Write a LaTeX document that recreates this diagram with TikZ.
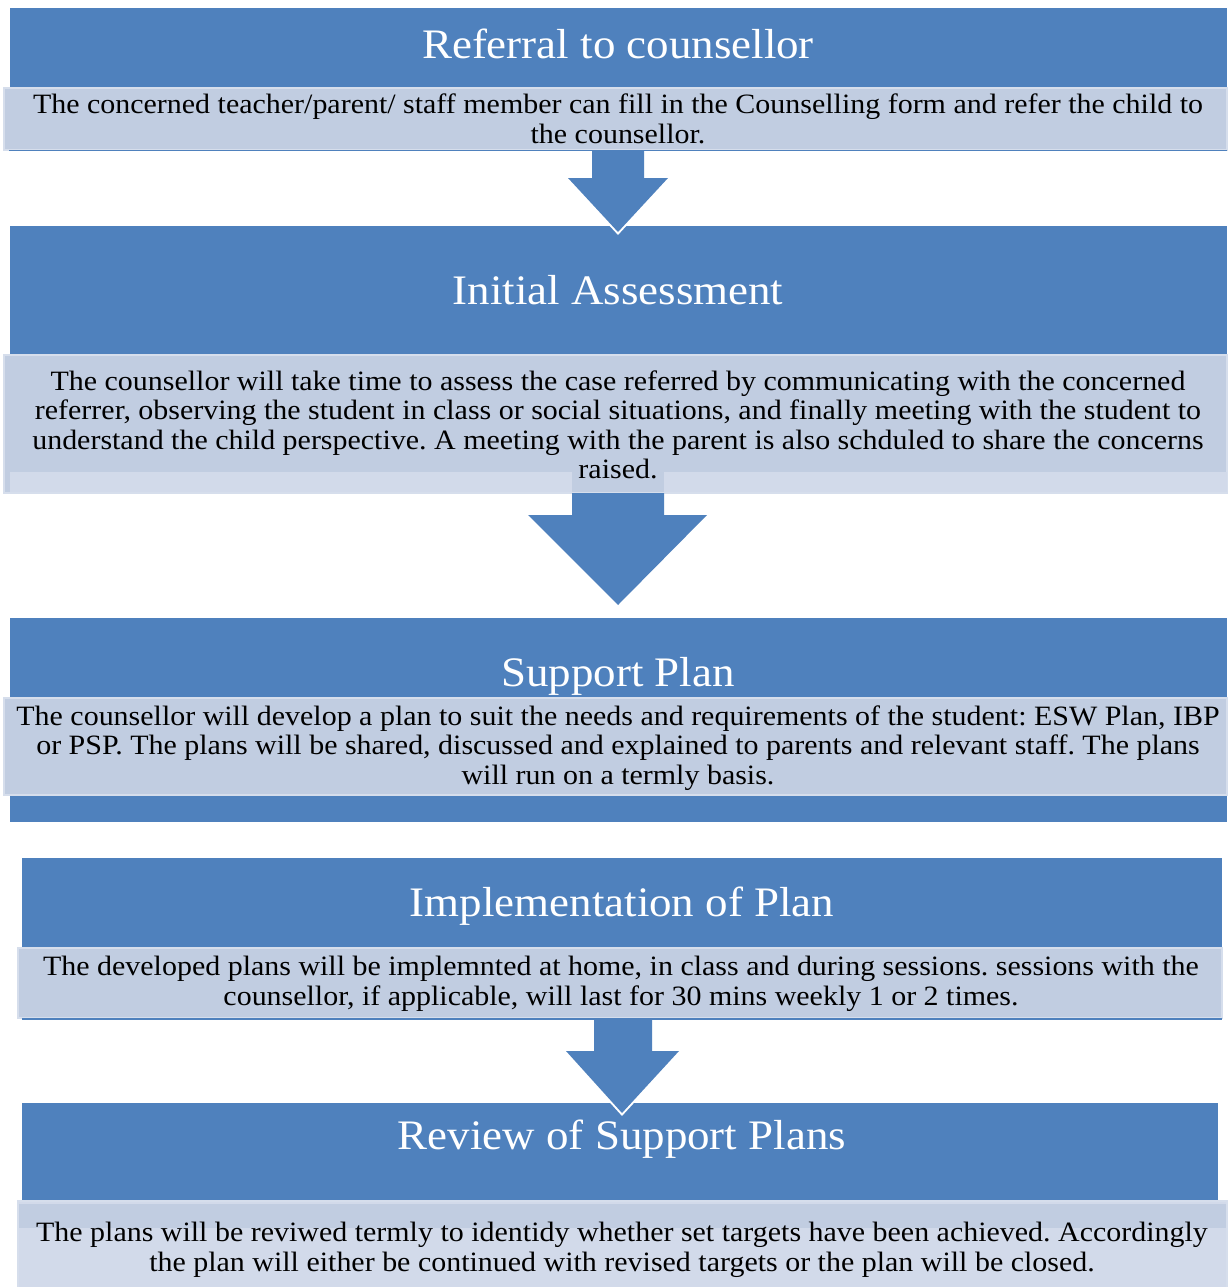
\documentclass[tikz,border=0pt]{standalone}
\usepackage{fontspec}
\setmainfont{Liberation Serif}
\newfontfamily\stretchserif[FakeStretch=1.07]{Liberation Serif}
\frenchspacing
\definecolor{hdr}{HTML}{4F81BD}
\definecolor{bar}{HTML}{C1CDE1}
\definecolor{barlt}{HTML}{D2DAEA}
\definecolor{baredge}{HTML}{D6DEEC}
\begin{document}
\begin{tikzpicture}[x=1pt,y=-1pt,
  title/.style={text=white, font=\stretchserif\fontsize{42}{46}\selectfont, inner sep=0pt, anchor=base},
  body/.style={text=black, font=\stretchserif\fontsize{28}{29.5}\selectfont, align=center, inner sep=0pt},
  hdrbox/.style={fill=hdr},
  barbox/.style={fill=bar, draw=baredge, line width=1.2pt},
  flowarrow/.style={fill=hdr},
  tipedge/.style={draw=white, line width=4pt, line join=miter}
]
\useasboundingbox[fill=white] (0,0) rectangle (1227,1287);

% ---------- Box 1 ----------
\path[hdrbox] (10,8) rectangle (1227,88);
\path[barbox] (4,88) rectangle (1227,150);
\draw[hdr, line width=1.2pt] (9,150.5) -- (1227,150.5);
\node[title] (t1) at (618,59) {Referral to counsellor};
\node[body] (b1) at (618,119) {The concerned teacher/parent/ staff member can fill in the Counselling form and refer the child to\\ the counsellor.};

% ---------- Box 2 ----------
\path[hdrbox] (10,226) rectangle (1227,355);
\node[title] (t2) at (618,304) {Initial Assessment};
\path[barbox] (4,355) rectangle (1227,493);
\path[fill=barlt] (10,472) rectangle (572,492);
\path[fill=barlt] (664,472) rectangle (1227,492);

% arrow 1 (drawn over box 2 header)
\draw[tipedge] (568,178) -- (618,232) -- (668,178);
\path[flowarrow] (592,151) -- (644,151) -- (644,178) -- (668,178) -- (618,232) -- (568,178) -- (592,178) -- cycle;

\node[body] (b2) at (618,425) {The counsellor will take time to assess the case referred by communicating with the concerned\\ referrer, observing the student in class or social situations, and finally meeting with the student to\\ understand the child perspective. A meeting with the parent is also schduled to share the concerns\\ raised.};

% arrow 2
\path[flowarrow] (572,493) -- (664,493) -- (664,515) -- (707,515) -- (618,605) -- (528,515) -- (572,515) -- cycle;

% ---------- Box 3 ----------
\path[hdrbox] (10,618) rectangle (1227,822);
\node[title] (t3) at (618,686) {Support Plan};
\path[barbox] (4,698) rectangle (1227,795);
\node[body] (b3) at (618,748) {The counsellor will develop a plan to suit the needs and requirements of the student: ESW Plan, IBP\\ or PSP. The plans will be shared, discussed and explained to parents and relevant staff. The plans\\ will run on a termly basis.};

% ---------- Box 4 ----------
\path[hdrbox] (22,858) rectangle (1222,948);
\node[title] (t4) at (622,916) {Implementation of Plan};
\path[barbox] (18,948) rectangle (1222,1018);
\draw[hdr, line width=1.5pt] (22,1019) -- (1222,1019);
\node[body] (b4) at (621,984) {The developed plans will be implemnted at home, in class and during sessions. sessions with the\\ counsellor, if applicable, will last for 30 mins weekly 1 or 2 times.};

% ---------- Box 5 ----------
\path[hdrbox] (22,1103) rectangle (1218,1200);
\node[title] (t5) at (622,1149) {Review of Support Plans};
\path[fill=barlt, draw=baredge, line width=1.2pt] (18,1201) rectangle (1227,1290);
\path[fill=bar] (19,1204) rectangle (1226,1228);

% arrow 3 (drawn over box 5 header)
\draw[tipedge] (566,1051) -- (622,1113) -- (679,1051);
\path[flowarrow] (594,1020) -- (652,1020) -- (652,1051) -- (679,1051) -- (622,1113) -- (566,1051) -- (594,1051) -- cycle;

\node[body] (b5) at (622,1250) {The plans will be reviwed termly to identidy whether set targets have been achieved. Accordingly\\ the plan will either be continued with revised targets or the plan will be closed.};
\end{tikzpicture}
\end{document}
